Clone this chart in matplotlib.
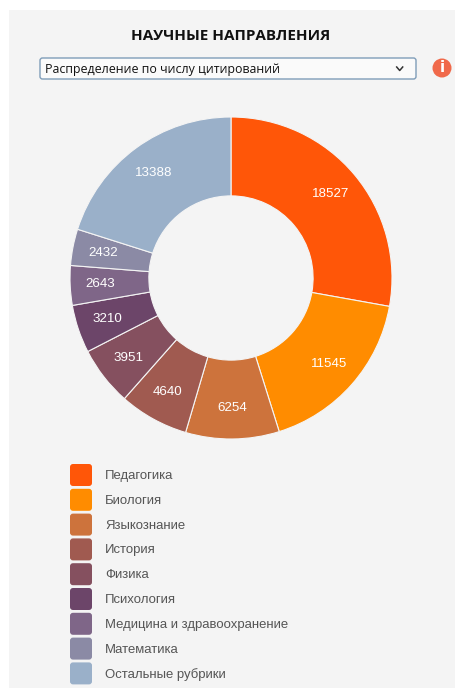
import matplotlib
matplotlib.use("Agg")
import matplotlib.pyplot as plt
from matplotlib.patches import FancyBboxPatch, Rectangle, Circle

title = "НАУЧНЫЕ НАПРАВЛЕНИЯ"
selector = "Распределение по числу цитирований"
categories = ["Педагогика", "Биология", "Языкознание", "История", "Физика",
              "Психология", "Медицина и здравоохранение", "Математика", "Остальные рубрики"]
values = [18527, 11545, 6254, 4640, 3951, 3210, 2643, 2432, 13388]
colors = ["#ff5608", "#ff8c00", "#cd733c", "#a05a50", "#85505f",
          "#6c4569", "#7f6688", "#8b8aa5", "#9ab0c9"]

W, H = 456, 688
fig = plt.figure(figsize=(W/100, H/100), dpi=100, facecolor="white")
ui = fig.add_axes([0, 0, 1, 1])
ui.set_xlim(0, W); ui.set_ylim(H, 0); ui.axis("off")
ui.add_patch(Rectangle((9, 10), W-9, H-10, fc="#f4f4f4", ec="none"))

ui.text(230.5, 36.5, title, ha="center", va="center", fontsize=11, fontweight="bold",
        family="Open Sans", color="#111111")
ui.add_patch(FancyBboxPatch((40, 58), 376, 21, boxstyle="round,pad=0,rounding_size=2.5",
                            fc="#fafafa", ec="#7f9db9", lw=1))
ui.text(45, 69, selector, ha="left", va="center", fontsize=8.95, family="Open Sans", color="#111111")
ui.plot([396.7, 399.7, 402.7], [67, 70.5, 67], color="#333333", lw=1.1)
ui.add_patch(Circle((442, 68), 9.5, fc="#f0694a", ec="none"))
ui.text(442, 68, "i", ha="center", va="center", fontsize=11, fontweight="bold",
        family="DejaVu Sans", color="white")

for i, (c, col) in enumerate(zip(categories, colors)):
    y = 475 + i*24.8
    ui.add_patch(FancyBboxPatch((70, y-11), 22, 22, boxstyle="round,pad=0,rounding_size=3",
                                fc=col, ec="none"))
    ui.text(105, y+1, c, ha="left", va="center", fontsize=9.45, family="Liberation Sans", color="#555555")

cx, cy, R = 231, 278, 161
ax = fig.add_axes([(cx-R)/W, 1-(cy+R)/H, 2*R/W, 2*R/H])
ax.set_aspect("equal")
wedges, _, autotexts = ax.pie(
    values, colors=colors, startangle=90, counterclock=False, radius=1,
    wedgeprops=dict(width=0.49, edgecolor="#f4f4f4", linewidth=0.8),
    autopct=lambda p: f"{round(p*sum(values)/100)}", pctdistance=0.81,
    textprops=dict(color="white", fontsize=9.6, family="Liberation Sans"))
ax.set_xlim(-1, 1); ax.set_ylim(-1, 1)
fig.savefig("out.png", dpi=100, facecolor="white")
